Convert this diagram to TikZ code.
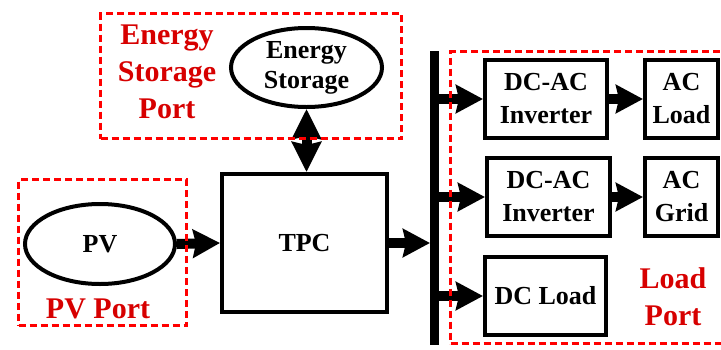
\documentclass[tikz,border=0pt]{standalone}
\usepackage{fontspec}
\setmainfont{Liberation Serif}
\usetikzlibrary{arrows.meta,shapes.geometric}
\definecolor{portred}{RGB}{255,0,0}
\definecolor{txtred}{RGB}{215,0,0}
\begin{document}
\begin{tikzpicture}[x=1pt,y=-1pt,
 blk/.style={draw,line width=4pt,rectangle,align=center,font=\bfseries\fontsize{26}{33}\selectfont,inner sep=0pt},
 ell/.style={draw,line width=4pt,ellipse,align=center,font=\bfseries\fontsize{26}{30}\selectfont,inner sep=0pt},
 port/.style={draw=portred,line width=3pt,dash pattern=on 7pt off 4pt,rectangle,inner sep=0pt},
 porttxt/.style={text=txtred,align=center,font=\bfseries\fontsize{30}{37}\selectfont,inner sep=0pt},
 flow/.style={line width=10pt,-{Stealth[width=28pt,length=27pt,inset=3pt]}},
 biflow/.style={line width=10pt,{Stealth[width=29pt,length=30pt,inset=3pt]}-{Stealth[width=29pt,length=30pt,inset=3pt]}}]
\useasboundingbox[fill=white] (0,0) rectangle (721,349);

% main nodes
\node[ell,minimum width=151pt,minimum height=79pt] (es) at (306.5,67.5) {Energy\\Storage};
\node[ell,minimum width=150pt,minimum height=80pt] (pv) at (100,244) {PV};
\node[blk,minimum width=165pt,minimum height=138pt] (tpc) at (304.5,243) {TPC};
\node[fill=black,inner sep=0pt,outer sep=0pt,minimum width=9pt,minimum height=294pt] (bus) at (434.5,198) {};
\node[blk,minimum width=122pt,minimum height=78pt] (inv1) at (546,99) {DC-AC\\Inverter};
\node[blk,minimum width=73pt,minimum height=78pt] (acl) at (681.5,99) {AC\\Load};
\node[blk,minimum width=123pt,minimum height=78pt] (inv2) at (548.5,197) {DC-AC\\Inverter};
\node[blk,minimum width=73pt,minimum height=78pt] (acg) at (681.5,197) {AC\\Grid};
\node[blk,minimum width=121pt,minimum height=78pt] (dcl) at (545.5,296) {DC Load};

% connectors
\draw[biflow] (es.south) -- (es.south |- tpc.north);
\draw[flow] (pv.east) -- (tpc.west);
\draw[flow] (tpc.east) -- (tpc.east -| bus.west);
\draw[flow] (bus.east |- inv1.west) -- (inv1.west);
\draw[flow] (bus.east |- inv2.west) -- (inv2.west);
\draw[flow] (bus.east |- dcl.west) -- (dcl.west);
\draw[flow] (inv1.east) -- (acl.west);
\draw[flow] (inv2.east) -- (acg.west);

% port frames
\node[port,minimum width=301pt,minimum height=125pt] (esport) at (251,76) {};
\node[port,minimum width=168pt,minimum height=146pt] (pvport) at (102.5,252.5) {};
\node[port,minimum width=280pt,minimum height=292pt] (loadport) at (590.5,197.5) {};

% port labels
\node[porttxt] (estxt) at (167,72) {Energy\\Storage\\Port};
\node[porttxt,anchor=base] (pvtxt) at (98,318) {PV Port};
\node[porttxt] (loadtxt) at (673,297) {Load\\Port};
\end{tikzpicture}
\end{document}
